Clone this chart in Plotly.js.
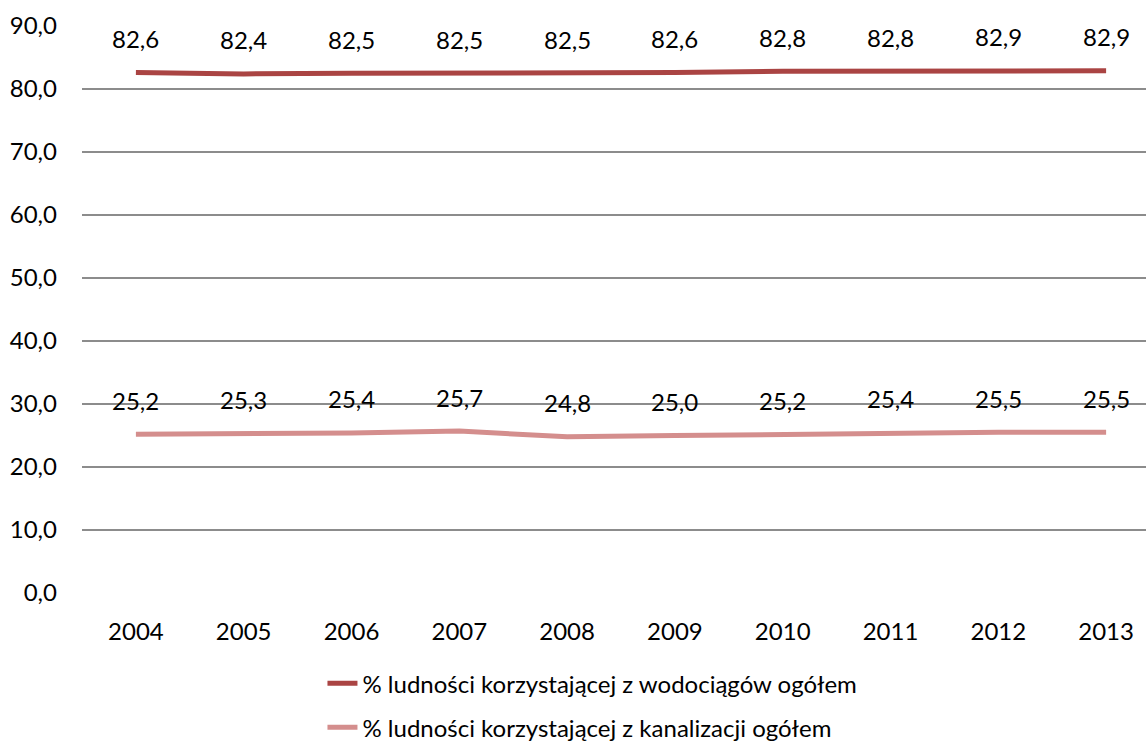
<!DOCTYPE html>
<html>
<head>
<meta charset="utf-8">
<script src="https://cdn.plot.ly/plotly-3.0.1.min.js"></script>
<style>html,body{margin:0;padding:0;background:#fff;}#chart{width:1146px;height:744px;}</style>
</head>
<body>
<div id="chart"></div>
<script>
const years = ['2004','2005','2006','2007','2008','2009','2010','2011','2012','2013'];
const waterName = '% ludności korzystającej z wodociągów ogółem';
const waterValues = [82.6, 82.4, 82.5, 82.5, 82.5, 82.6, 82.8, 82.8, 82.9, 82.9];
const sewerName = '% ludności korzystającej z kanalizacji ogółem';
const sewerValues = [25.2, 25.3, 25.4, 25.7, 24.8, 25.0, 25.2, 25.4, 25.5, 25.5];

const FONT = 'Lato, "Open Sans", sans-serif';
const FS = 24;
const fmt = v => v.toFixed(1).replace('.', ',');

const traces = [
  {x: years, y: waterValues, name: waterName, type: 'scatter', mode: 'lines',
   line: {color: '#AA4443', width: 5}, legendgroup: 'a', hoverinfo: 'none'},
  {x: years, y: sewerValues, name: sewerName, type: 'scatter', mode: 'lines',
   line: {color: '#D48E8D', width: 5}, legendgroup: 'b', hoverinfo: 'none'}
];

const annotations = [];
[waterValues, sewerValues].forEach(vals => {
  vals.forEach((v, i) => {
    annotations.push({x: i, y: v, xref: 'x', yref: 'y', text: fmt(v),
      showarrow: false, yshift: 34, font: {family: FONT, size: FS, color: '#000'}});
  });
});

const layout = {
  width: 1146, height: 744,
  margin: {l: 82, r: 0, t: 26, b: 151, autoexpand: false},
  paper_bgcolor: '#fff', plot_bgcolor: '#fff',
  separators: ', ',
  font: {family: FONT, size: FS, color: '#000'},
  xaxis: {type: 'category', range: [-0.5, 9.37], showgrid: false, zeroline: false,
          showline: false, ticks: '', ticklabelstandoff: 22, automargin: false,
          tickfont: {family: FONT, size: FS, color: '#000'}},
  yaxis: {range: [0, 90], dtick: 10, tickformat: '.1f', showgrid: true,
          gridcolor: '#8C8C8C', gridwidth: 1.5, zeroline: false, showline: false,
          ticks: '', ticklabelstandoff: 24, automargin: false,
          tickfont: {family: FONT, size: FS, color: '#000'}},
  showlegend: true,
  legend: {orientation: 'v', x: 0.226, xanchor: 'left', y: -0.12, yanchor: 'top',
           font: {family: FONT, size: FS, color: '#000'}, tracegroupgap: 10,
           bgcolor: 'rgba(0,0,0,0)', traceorder: 'grouped'},
  annotations: annotations
};

Plotly.newPlot('chart', traces, layout, {displayModeBar: false, staticPlot: true});
</script>
</body>
</html>
